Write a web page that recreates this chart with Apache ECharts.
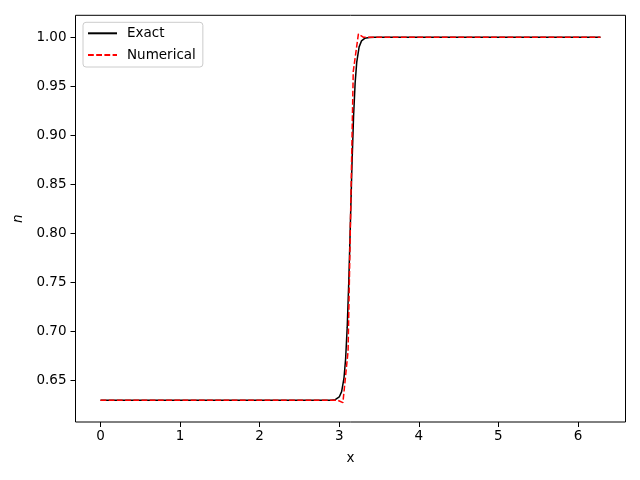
<!DOCTYPE html>
<html>
<head>
<meta charset="utf-8">
<script src="https://cdn.jsdelivr.net/npm/echarts@6/dist/echarts.min.js"></script>
<style>html,body{margin:0;padding:0;background:#fff}#c{width:640px;height:480px}</style>
</head>
<body>
<div id="c"></div>
<script>
const exactX = [0, 2.80, 2.90, 2.95, 3.00, 3.03, 3.06, 3.08, 3.10, 3.12, 3.14, 3.16, 3.18, 3.20, 3.22, 3.25, 3.28, 3.32, 3.38, 3.45, 6.283];
const exactN = [0.63, 0.63, 0.6301, 0.6306, 0.6333, 0.6388, 0.6529, 0.6721, 0.7040, 0.7511, 0.8101, 0.8700, 0.9195, 0.9538, 0.9747, 0.9903, 0.9964, 0.9990, 0.9999, 1.0, 1.0];
const numX = [0, 2.981, 3.046, 3.111, 3.176, 3.241, 3.306, 6.283];
const numN = [0.63, 0.63, 0.6275, 0.68, 0.965, 1.0036, 1.0, 1.0];
const xTicks = [0, 1, 2, 3, 4, 5, 6];
const yTicks = [0.65, 0.70, 0.75, 0.80, 0.85, 0.90, 0.95, 1.00];

const FONT = 'DejaVu Sans';
const FS = 13.5;
const chart = echarts.init(document.getElementById('c'), null, {renderer: 'canvas'});
chart.setOption({
  animation: false,
  backgroundColor: '#fff',
  grid: {left: 75.5, right: 14.5, top: 15.3, bottom: 58, show: true, borderColor: '#000', borderWidth: 1, backgroundColor: 'transparent'},
  xAxis: {
    type: 'value', min: -0.3142, max: 6.5973,
    name: 'x', nameLocation: 'middle', nameGap: 29,
    nameTextStyle: {fontFamily: FONT, fontSize: FS, color: '#000'},
    axisLine: {show: false, onZero: false},
    splitLine: {show: false},
    axisTick: {show: true, inside: false, length: 5, lineStyle: {color: '#000', width: 1}, customValues: xTicks},
    axisLabel: {show: true, margin: 7, fontFamily: FONT, fontSize: FS, color: '#000', customValues: xTicks, formatter: v => String(v)}
  },
  yAxis: {
    type: 'value', min: 0.6078, max: 1.0225,
    name: 'n', nameLocation: 'middle', nameGap: 47, nameRotate: 90,
    nameTextStyle: {fontFamily: FONT, fontSize: FS, fontStyle: 'italic', color: '#000'},
    axisLine: {show: false, onZero: false},
    splitLine: {show: false},
    axisTick: {show: true, inside: false, length: 5, lineStyle: {color: '#000', width: 1}, customValues: yTicks},
    axisLabel: {show: true, margin: 9, fontFamily: FONT, fontSize: FS, color: '#000', customValues: yTicks, formatter: v => v.toFixed(2)}
  },
  legend: {
    orient: 'vertical', left: 83, top: 22.3,
    itemWidth: 29, itemHeight: 14, itemGap: 7.7,
    padding: [4, 7, 5, 4],
    borderColor: '#cccccc', borderWidth: 1, borderRadius: 3,
    backgroundColor: 'rgba(255,255,255,0.8)',
    itemStyle: {opacity: 0},
    textStyle: {fontFamily: FONT, fontSize: FS, color: '#000', padding: [0, 0, 0, 5]},
    data: ['Exact', 'Numerical']
  },
  series: [
    {name: 'Exact', type: 'line', symbol: 'none', showSymbol: false, color: '#000',
     lineStyle: {color: '#000', width: 1.5},
     data: exactX.map((x, i) => [x, exactN[i]])},
    {name: 'Numerical', type: 'line', symbol: 'none', showSymbol: false, color: '#ff0000',
     lineStyle: {color: '#ff0000', width: 1.5, type: [5.8, 2.4]},
     data: numX.map((x, i) => [x, numN[i]])}
  ]
});
</script>
</body>
</html>
